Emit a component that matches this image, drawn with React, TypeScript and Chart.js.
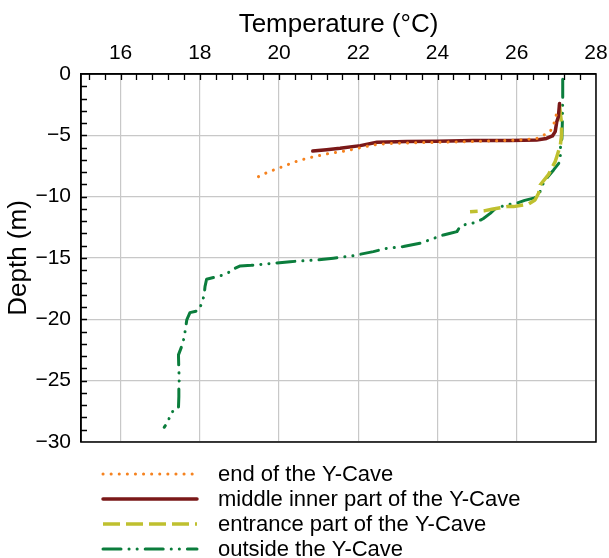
import React, { useEffect, useRef } from 'react';
import { Chart, registerables } from 'chart.js';

Chart.register(...registerables);

// Axis ticks
const xTicks = [16, 18, 20, 22, 24, 26, 28];
const yTicks = [0, -5, -10, -15, -20, -25, -30];

// Series: end of the Y-Cave (dotted orange)
const endTemp = [19.48, 19.69, 20.09, 20.49, 20.88, 21.29, 21.71, 22.09, 22.48, 22.89, 23.5, 24.07, 24.9, 25.5, 25.87, 26.09, 26.5, 26.67, 26.84, 26.93, 26.97, 27.01];
const endDepth = [-8.37, -8.04, -7.55, -7.06, -6.74, -6.46, -6.25, -5.98, -5.73, -5.65, -5.6, -5.57, -5.5, -5.45, -5.4, -5.38, -5.26, -5.0, -4.7, -4.16, -3.61, -3.2];

// Series: middle inner part of the Y-Cave (solid maroon)
const midTemp = [20.85, 21.2, 21.54, 22.05, 22.47, 23.22, 24.0, 24.9, 25.83, 26.5, 26.75, 26.9, 26.97, 27.01, 27.05, 27.08];
const midDepth = [-6.28, -6.18, -6.06, -5.84, -5.57, -5.51, -5.48, -5.43, -5.43, -5.38, -5.25, -5.05, -4.7, -3.9, -3.48, -2.4];

// Series: entrance part of the Y-Cave (dashed yellow-green)
const entTemp = [27.08, 27.1, 27.13, 27.13, 27.1, 27.01, 26.97, 26.8, 26.59, 26.55, 26.46, 26.3, 25.92, 25.75, 25.37, 25.2, 24.82];
const entDepth = [-2.5, -3.2, -4.0, -5.0, -5.8, -6.74, -7.14, -8.2, -9.05, -9.72, -10.27, -10.6, -10.81, -10.81, -11.03, -11.14, -11.22];

// Series: outside the Y-Cave (dash-dot-dot green)
const outTemp = [27.16, 27.16, 27.15, 27.14, 27.1, 27.1, 27.06, 26.93, 26.78, 26.67, 26.6, 26.55, 26.45, 26.2, 26.04, 25.85, 25.66, 25.45, 25.33, 25.15, 24.95, 24.74, 24.57, 24.49, 24.3, 24.15, 23.98, 23.56, 23.14, 22.72, 22.38, 21.84, 21.37, 20.95, 20.28, 19.86, 19.3, 19.02, 18.89, 18.85, 18.59, 18.43, 18.17, 18.13, 18.11, 18.05, 17.96, 17.75, 17.67, 17.64, 17.6, 17.54, 17.46, 17.47, 17.48, 17.47, 17.47, 17.46, 17.33, 17.25, 17.2, 17.1];
const outDepth = [-0.43, -2.0, -4.0, -5.24, -6.06, -6.87, -7.28, -7.82, -8.4, -8.9, -9.5, -9.86, -10.1, -10.3, -10.49, -10.6, -10.75, -11.0, -11.36, -11.8, -12.12, -12.22, -12.44, -12.85, -13.0, -13.12, -13.31, -13.8, -14.07, -14.21, -14.48, -14.83, -15.02, -15.16, -15.3, -15.43, -15.6, -15.65, -15.84, -16.0, -16.38, -16.52, -16.73, -17.33, -18.01, -18.69, -19.29, -19.45, -20.05, -20.73, -21.54, -22.22, -22.9, -24.12, -24.94, -25.61, -26.3, -27.25, -27.44, -27.79, -28.34, -28.8];

const seriesNames = [
  'end of the Y-Cave',
  'middle inner part of the Y-Cave',
  'entrance part of the Y-Cave',
  'outside the Y-Cave',
];

const FONT = '"Liberation Sans", Arial, Helvetica, sans-serif';

const fmt = (v: number) => (v < 0 ? '\u2212' + Math.abs(v) : String(v));

export default function App() {
  const ref = useRef<HTMLCanvasElement | null>(null);

  useEffect(() => {
    if (!ref.current) return;
    const pts = (t: number[], d: number[]) => t.map((x, i) => ({ x, y: d[i] }));

    const framePlugin = {
      id: 'frameAndTicks',
      afterDraw(chart: any) {
        const { ctx, chartArea } = chart;
        const xs = chart.scales.x;
        const ys = chart.scales.y;
        ctx.save();
        ctx.strokeStyle = '#000';
        ctx.lineWidth = 1.3;
        ctx.setLineDash([]);
        // minor + major ticks, inward on the top axis
        ctx.beginPath();
        for (let k = -3; k <= 30; k++) {
          const v = 16 + k * 0.4;
          if (v <= 15.01 || v >= 27.99) continue;
          const px = Math.round(xs.getPixelForValue(v)) + 0.5;
          ctx.moveTo(px, chartArea.top);
          ctx.lineTo(px, chartArea.top + 6);
        }
        // inward on the left axis, every metre
        for (let m = -29; m <= -1; m++) {
          const py = Math.round(ys.getPixelForValue(m)) + 0.5;
          ctx.moveTo(chartArea.left, py);
          ctx.lineTo(chartArea.left + 6, py);
        }
        ctx.stroke();
        // frame
        ctx.lineWidth = 1.5;
        ctx.strokeRect(chartArea.left, chartArea.top, chartArea.right - chartArea.left, chartArea.bottom - chartArea.top);

        // legend
        const x0 = 103;
        const x1 = 197;
        chart.data.datasets.forEach((ds: any, i: number) => {
          const y = chartArea.bottom + 32 + i * 25;
          ctx.save();
          ctx.strokeStyle = ds.borderColor;
          ctx.lineWidth = ds.borderWidth;
          ctx.lineCap = ds.borderCapStyle || 'butt';
          ctx.setLineDash(ds.borderDash || []);
          ctx.beginPath();
          ctx.moveTo(x0, y);
          ctx.lineTo(x1, y);
          ctx.stroke();
          ctx.restore();
          ctx.fillStyle = '#000';
          ctx.font = `22px ${FONT}`;
          ctx.textBaseline = 'middle';
          ctx.textAlign = 'left';
          ctx.fillText(ds.label, 218, y + 1);
        });
        ctx.restore();
      },
    };

    const chart = new Chart(ref.current, {
      type: 'scatter',
      data: {
        datasets: [
          {
            label: seriesNames[0],
            data: pts(endTemp, endDepth),
            showLine: true,
            borderColor: '#f5821f',
            borderWidth: 3,
            borderDash: [0.1, 8],
            borderCapStyle: 'round',
            borderJoinStyle: 'round',
            pointRadius: 0,
            tension: 0,
          },
          {
            label: seriesNames[1],
            data: pts(midTemp, midDepth),
            showLine: true,
            borderColor: '#7a1818',
            borderWidth: 3.5,
            borderCapStyle: 'round',
            borderJoinStyle: 'round',
            pointRadius: 0,
            tension: 0,
          },
          {
            label: seriesNames[2],
            data: pts(entTemp, entDepth),
            showLine: true,
            borderColor: '#bfc02f',
            borderWidth: 3.5,
            borderDash: [17, 6],
            borderCapStyle: 'butt',
            borderJoinStyle: 'round',
            pointRadius: 0,
            tension: 0,
          },
          {
            label: seriesNames[3],
            data: pts(outTemp, outDepth),
            showLine: true,
            borderColor: '#0b7d3c',
            borderWidth: 3,
            borderDash: [18, 8, 0.1, 8, 0.1, 8],
            borderCapStyle: 'round',
            borderJoinStyle: 'round',
            pointRadius: 0,
            tension: 0,
          },
        ],
      },
      options: {
        responsive: false,
        animation: false,
        layout: { padding: { left: 0, right: 13, top: 0, bottom: 116 } },
        plugins: {
          legend: { display: false },
          tooltip: { enabled: false },
        },
        scales: {
          x: {
            type: 'linear',
            position: 'top',
            min: 15,
            max: 28,
            afterBuildTicks: (s: any) => {
              s.ticks = xTicks.map((v) => ({ value: v }));
            },
            afterFit: (s: any) => {
              s.height = 74;
              s.paddingLeft = 0;
              s.paddingRight = 0;
            },
            ticks: {
              color: '#000',
              font: { family: FONT, size: 21 },
              padding: 8,
              maxRotation: 0,
              autoSkip: false,
              callback: (v: any) => fmt(Number(v)),
            },
            grid: { color: '#c8c8c8', lineWidth: 1.2, drawTicks: false },
            border: { display: true, color: '#000', width: 1.5 },
            title: {
              display: true,
              text: 'Temperature (°C)',
              color: '#000',
              font: { family: FONT, size: 26 },
              padding: { top: 9, bottom: 0 },
            },
          },
          y: {
            type: 'linear',
            position: 'left',
            min: -30,
            max: 0,
            afterBuildTicks: (s: any) => {
              s.ticks = yTicks.map((v) => ({ value: v }));
            },
            afterFit: (s: any) => {
              s.width = 81;
              s.paddingTop = 0;
              s.paddingBottom = 0;
            },
            ticks: {
              color: '#000',
              font: { family: FONT, size: 21 },
              padding: 10,
              autoSkip: false,
              callback: (v: any) => fmt(Number(v)),
            },
            grid: { color: '#c8c8c8', lineWidth: 1.2, drawTicks: false },
            border: { display: true, color: '#000', width: 1.5 },
            title: {
              display: true,
              text: 'Depth (m)',
              color: '#000',
              font: { family: FONT, size: 26 },
              padding: { top: 3, bottom: 0 },
            },
          },
        },
      },
      plugins: [framePlugin],
    } as any);

    return () => {
      chart.destroy();
    };
  }, []);

  return (
    <div style={{ position: 'absolute', left: 0, top: 0, width: 609, height: 558, background: '#fff' }}>
      <canvas ref={ref} width={609} height={558} style={{ display: 'block' }} />
    </div>
  );
}
